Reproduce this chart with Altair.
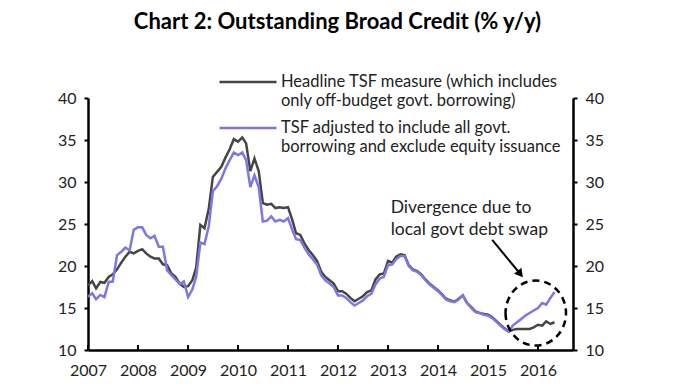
import altair as alt
import pandas as pd

title_text = "Chart 2: Outstanding Broad Credit (% y/y)"
start_month = "2007-01-01"

headline = [
    17.7, 18.2, 17.35, 18.1, 18.0, 18.7, 19.0, 19.6, 20.4, 21.1, 21.7, 21.5,
    21.8, 22.0, 21.5, 21.1, 20.9, 20.9, 20.2, 20.1, 19.1, 18.7, 17.9, 17.5,
    17.6, 18.3, 19.8, 24.9, 24.5, 26.8, 30.6, 31.2, 31.8, 32.9, 33.9, 35.1,
    34.8, 35.3, 34.6, 31.3, 32.8, 31.3, 27.5, 27.3, 27.4, 26.9, 27.0, 26.9,
    27.0, 25.5, 23.9, 23.7, 22.7, 21.9, 21.3, 20.6, 19.3, 18.7, 18.3, 17.9,
    17.0, 17.0, 16.7, 16.2, 15.8, 16.1, 16.4, 16.9, 17.1, 18.4, 19.0, 19.1,
    20.6, 20.4, 21.1, 21.4, 21.3, 20.1, 19.6, 19.4, 19.0, 18.4, 17.9, 17.5,
    17.1, 16.6, 16.1, 15.9, 15.75, 16.1, 16.5, 15.6, 15.1, 14.6, 14.4, 14.3,
    14.2, 13.9, 13.5, 13.0, 12.6, 12.2, 12.4, 12.5, 12.5, 12.5, 12.5, 12.7,
    13.0, 12.9, 13.4, 13.1, 13.3,
]

adjusted = [
    16.35, 16.75, 16.05, 16.55, 16.3, 18.1, 18.15, 21.3, 21.7, 22.2, 21.85, 24.3,
    24.6, 24.6, 23.7, 23.3, 23.6, 22.3, 22.3, 19.5, 18.9, 18.4, 17.85, 18.15,
    16.3, 17.2, 18.7, 22.8, 22.6, 24.7, 28.9, 29.5, 30.4, 31.6, 32.6, 33.5,
    33.2, 33.5, 32.6, 29.4, 30.8, 29.4, 25.3, 25.4, 25.9, 25.3, 25.5, 25.3,
    25.7, 24.3, 23.2, 23.1, 22.2, 21.4, 20.8, 20.2, 18.9, 18.3, 17.9, 17.5,
    16.5, 16.5, 16.2, 15.7, 15.3, 15.6, 15.9, 16.4, 16.7, 17.8, 18.5, 18.7,
    20.1, 20.2, 20.8, 21.2, 21.2, 20.0, 19.5, 19.3, 18.9, 18.3, 17.8, 17.4,
    17.0, 16.5, 16.0, 15.8, 15.7, 16.0, 16.5, 15.6, 15.0, 14.5, 14.4, 14.2,
    14.1, 13.8, 13.4, 12.9, 12.5, 12.2, 12.9, 13.3, 13.7, 14.1, 14.4, 14.7,
    15.0, 15.6, 15.4, 16.2, 16.9,
]

series_names = [
    "Headline TSF measure (which includes|only off-budget govt. borrowing)",
    "TSF adjusted to include all govt.|borrowing and exclude equity issuance",
]
series_colors = ["#454545", "#7b78e6"]

tick_years = [2007, 2008, 2009, 2010, 2011, 2012, 2013, 2014, 2015, 2016]
y_ticks = [10, 15, 20, 25, 30, 35, 40]
y_domain = [10, 40]

annot_text = ["Divergence due to", "local govt debt swap"]
annot_date = ["2013-01-20"]
annot_value = [26.3]

circle_date = ["2015-12-16"]
circle_value = [14.4]

arrow_date = ["2015-02-01"]
arrow_value = [23.1]
arrow_end_date = ["2015-08-25"]
arrow_end_value = [19.05]

FONT = "Lato"

dates = pd.date_range(start_month, periods=len(headline), freq="MS")
df_head = pd.DataFrame({"date": dates, "value": headline, "series": series_names[0]})
df_adj = pd.DataFrame({"date": dates, "value": adjusted, "series": series_names[1]})

x_scale = alt.Scale(domain=[alt.DateTime(year=2007, month=1, date=1),
                            alt.DateTime(year=2016, month=9, date=13)])
y_scale = alt.Scale(domain=y_domain, nice=False, zero=False)

year_vals = [alt.DateTime(year=y, month=1, date=1) for y in tick_years]


def legend_at(ypos):
    return alt.Legend(title=None, orient="none", legendX=130, legendY=ypos,
                      symbolType="stroke", symbolSize=3249, symbolStrokeWidth=2.5,
                      labelFont=FONT, labelFontSize=16.5, labelLimit=500, labelOffset=3,
                      labelExpr="split(datum.label, '|')", labelColor="#222")


line_head = alt.Chart(df_head).mark_line(strokeWidth=2.5).encode(
    x=alt.X("date:T", scale=x_scale,
            axis=alt.Axis(values=year_vals, format="%Y", title=None, ticks=False,
                          labelPadding=12, labelAlign="center", labelFlush=False)),
    y=alt.Y("value:Q", scale=y_scale,
            axis=alt.Axis(values=y_ticks, title=None, orient="left", labelPadding=8)),
    color=alt.Color("series:N",
                    scale=alt.Scale(domain=[series_names[0]], range=[series_colors[0]]),
                    legend=legend_at(-46)),
)

line_adj = alt.Chart(df_adj).mark_line(strokeWidth=2.5).encode(
    x=alt.X("date:T", scale=x_scale),
    y=alt.Y("value:Q", scale=y_scale,
            axis=alt.Axis(values=y_ticks, title=None, orient="right", labelPadding=8)),
    color=alt.Color("series:N",
                    scale=alt.Scale(domain=[series_names[1]], range=[series_colors[1]]),
                    legend=legend_at(0)),
)

ticks_df = pd.DataFrame({"date": [pd.Timestamp(year=y, month=1, day=1) for y in tick_years]})
xticks = alt.Chart(ticks_df).mark_rule(color="black", strokeWidth=2).encode(
    x=alt.X("date:T", scale=x_scale),
    y=alt.value(252), y2=alt.value(247),
)

annot_df = pd.DataFrame({"date": annot_date, "value": annot_value,
                         "text": ["\n".join(annot_text)]})
annot = alt.Chart(annot_df).mark_text(
    align="left", baseline="alphabetic", font=FONT, fontSize=17.5, lineBreak="\n",
    lineHeight=22, color="#222",
).encode(
    x=alt.X("date:T", scale=x_scale),
    y=alt.Y("value:Q", scale=y_scale, axis=None),
    text="text:N",
)

circle_df = pd.DataFrame({"date": circle_date, "value": circle_value})
ellipse = "M -0.93 0 A 0.93 1 0 1 0 0.93 0 A 0.93 1 0 1 0 -0.93 0 Z"
circle = alt.Chart(circle_df).mark_point(
    shape=ellipse, size=4225, filled=False, color="black", strokeWidth=2.5,
    strokeDash=[7, 5], opacity=1,
).encode(
    x=alt.X("date:T", scale=x_scale),
    y=alt.Y("value:Q", scale=y_scale, axis=None),
)

arrow_df = pd.DataFrame({"date": arrow_date, "value": arrow_value,
                         "date2": arrow_end_date, "value2": arrow_end_value})
arrow_line = alt.Chart(arrow_df).mark_rule(color="black", strokeWidth=2).encode(
    x=alt.X("date:T", scale=x_scale),
    y=alt.Y("value:Q", scale=y_scale, axis=None),
    x2="date2:T", y2="value2:Q",
)
arrow_head = alt.Chart(arrow_df).mark_point(
    shape="triangle-up", filled=True, color="black", size=90, angle=141, opacity=1,
).encode(
    x=alt.X("date2:T", scale=x_scale),
    y=alt.Y("value2:Q", scale=y_scale, axis=None),
)

chart = alt.layer(line_head, line_adj, xticks, annot, circle, arrow_line, arrow_head).resolve_axis(
    y="independent"
).resolve_scale(
    color="independent"
).properties(
    width=485, height=252,
    autosize=alt.AutoSizeParams(type="none"),
    padding={"left": 80, "top": 90, "right": 113, "bottom": 33},
    title=alt.TitleParams(title_text, font=FONT, fontSize=22, fontWeight="bold",
                          anchor="middle", dx=7, offset=18, color="black"),
).configure_view(stroke=None).configure_axis(
    grid=False, labelFont=FONT, labelFontSize=16, labelColor="#222",
    domainColor="black", domainWidth=2.5, tickColor="black", tickWidth=2, tickSize=4,
)

chart.save("out.html", embed_options={"renderer": "svg", "actions": False})
